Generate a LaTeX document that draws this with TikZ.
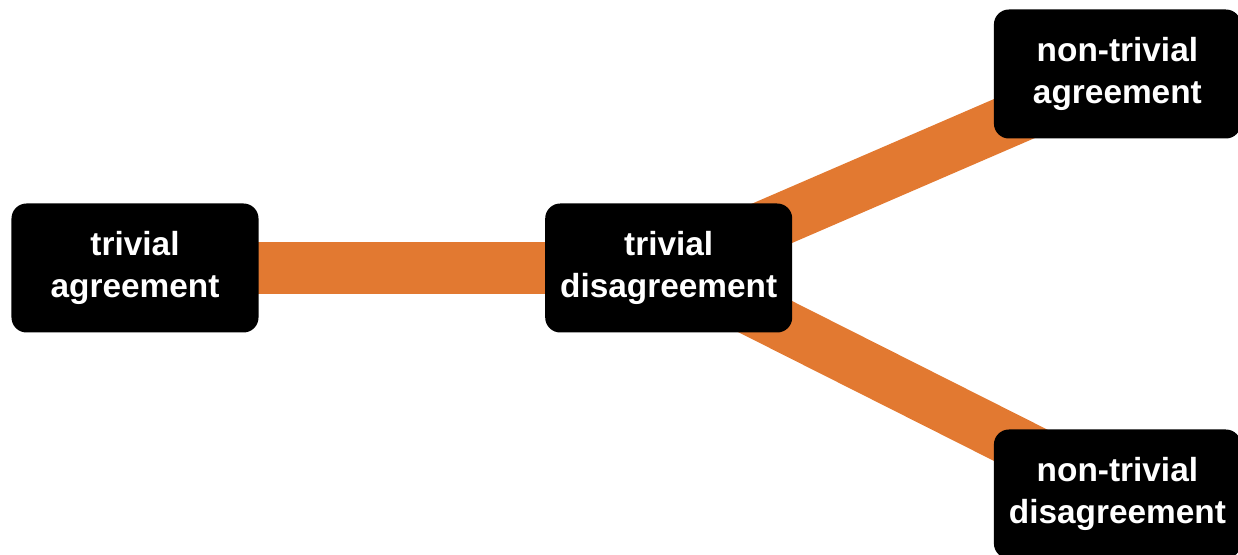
\documentclass[tikz,border=0pt]{standalone}
\usepackage{fontspec}
\setmainfont{Liberation Sans}
\usepackage{xcolor}
\usepackage{tikz}
\usetikzlibrary{positioning}
\usetikzlibrary{backgrounds}

\definecolor{barorange}{RGB}{226,121,49}

\begin{document}
\begin{tikzpicture}[
  node distance=0mm,
  box/.style={fill=black, text=white, rounded corners=0.3cm, minimum width=4.94cm,
    minimum height=2.58cm, inner sep=0pt, align=center,
    font=\fontsize{19}{23.5}\selectfont\bfseries},
  bar/.style={draw=barorange, line width=1.04cm}
]
\useasboundingbox (0,0) rectangle (24.76,11.08);
\node[box] (ta) at (2.70,5.72) {trivial\\agreement};
\node[box, right=5.72cm of ta] (td) {trivial\\disagreement};
\node[box, right=4.02cm of td, yshift=3.88cm] (na) {non-trivial\\agreement};
\node[box, right=4.02cm of td, yshift=-4.52cm] (nd) {non-trivial\\disagreement};

% thick bars behind the boxes
\begin{scope}[on background layer]
\draw[bar] (ta.center) -- (td.center);
\draw[bar] (td.center) -- (na.center);
\draw[bar] (td.center) -- (nd.center);
\end{scope}
\end{tikzpicture}
\end{document}
